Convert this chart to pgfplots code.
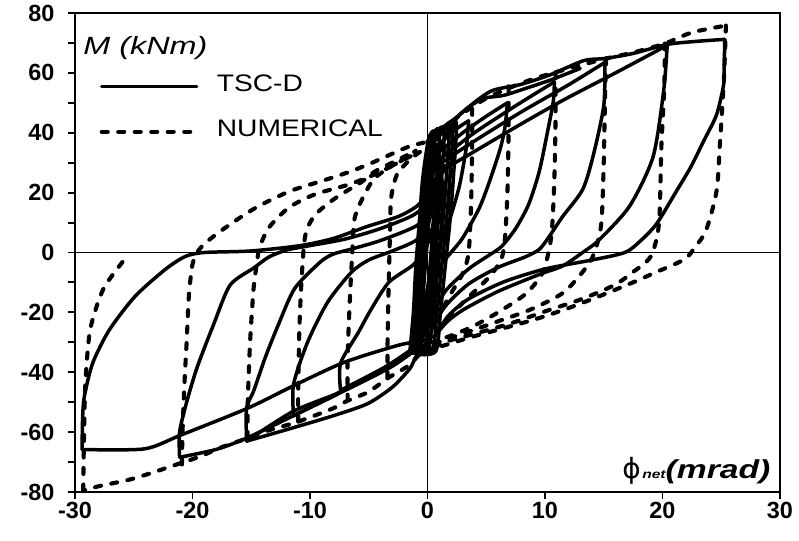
\documentclass[border=0pt]{standalone}
\usepackage{pgfplots}
\pgfplotsset{compat=1.18}
\usepackage{fontspec}
\setmainfont{Liberation Sans}
\newfontfamily\legfont[FakeStretch=1.18]{Liberation Sans}
\newfontfamily\lblfont[FakeStretch=1.3]{Liberation Sans}
\newfontfamily\phifont{DejaVu Sans}

\pgfplotsset{
  tsc/.style={black, line width=3.5bp, line join=round, line cap=round, smooth, tension=0.45},
  num/.style={black, line width=4.1bp, line cap=round, dash pattern=on 6bp off 10.5bp, smooth, tension=0.45},
}

\begin{document}
\begin{tikzpicture}
\begin{axis}[
  scale only axis, width=705bp, height=479bp,
  xmin=-30, xmax=30, ymin=-80, ymax=80,
  xtick={-30,-20,...,30}, ytick={-80,-60,...,80},
  minor ytick={-70,-50,...,70},
  tick align=outside, xtick pos=bottom, ytick pos=left,
  major tick length=7bp, minor tick length=7bp,
  every tick/.style={black, line width=1.9bp},
  axis line style={line width=2.3bp},
  /pgf/number format/assume math mode=true,
  ticklabel style={font=\bfseries\fontsize{23.5}{23.5}\selectfont},
  yticklabel style={xshift=-10bp},
  legend style={draw=none, fill=none, at={(axis cs:-27.9,59.4)}, anchor=north west,
    inner sep=0pt, outer sep=0pt, row sep=28bp,
    font=\legfont\fontsize{24}{24}\selectfont,
    nodes={inner sep=0pt, text height=17bp, text depth=0bp},
    /tikz/every odd column/.append style={column sep=18bp}},
  legend cell align=left,
  legend image code/.code={\draw[#1] (0bp,-3.5bp) -- (95bp,-3.5bp);},
]

% zero lines
\addplot[black, line width=1.9bp, forget plot] coordinates {(-30,0) (30,0)};
\addplot[black, line width=1.9bp, forget plot] coordinates {(0,-80) (0,80)};

% ---------- TSC-D (test) ----------
% reloading to the largest negative excursion
\addplot[tsc] coordinates {(0.5,-28) (-0.5,-29.5) (-2.5,-31) (-7.1,-36.7) (-11.4,-44.5) (-15.3,-52) (-21,-61) (-24.1,-65.6) (-29.4,-65.8)};
\addlegendentry{TSC-D}

% ---------- NUMERICAL ----------
% upper envelope
\addplot[num] coordinates {(0,37) (1.5,42) (3,46.5) (5,51.5) (7,55) (9,58) (10.9,60.2) (13,62.5) (15.2,64.8) (17.5,66.8) (20.2,69.8) (22.5,73.5) (25.4,75.8)};
\addlegendentry{NUMERICAL}

% unloading from -29 and return
\addplot[tsc, forget plot] coordinates {(-29.4,-65.8) (-29.35,-55) (-29.2,-48) (-28.5,-37) (-27.1,-26) (-24.9,-14.7) (-22.3,-5.6) (-20.6,-1.3) (-19,0) (-15.1,0.5) (-11,2.2) (-8.1,4.6) (-5.2,8.6) (-2.5,12) (-0.9,15.5) (0,20) (0.6,28) (1.2,36) (2,42)};
% upper envelope, first loading
\addplot[tsc, forget plot] coordinates {(0.3,36) (1.5,41) (3.1,47.3) (5.4,53.9) (7.9,56.1) (10.4,59.3) (13.3,64.1) (15.1,64.8) (17.5,66.5) (20.4,69.5) (22.8,70.5) (25.3,71.2)};
\addplot[tsc, forget plot] coordinates {(0.6,38) (2,43.5) (3.5,48.5) (4.8,51.5) (6.5,52.5) (8.5,55) (10.6,57.8) (13,61.5)};
% +25 unloading
\addplot[tsc, forget plot] coordinates {(25.3,71.2) (25.25,62) (25.2,56) (24.6,46) (23.5,37.2) (22.4,28.5) (21.2,20.6) (19.5,9.6) (18.1,3.8) (16.8,0) (14,-2.5) (10,-5.5) (6.5,-9.8) (3.5,-15.5) (1.8,-21) (0.8,-27)};
% +20 cycle
\addplot[tsc, forget plot] coordinates {(1.5,28) (4.1,34) (8,43) (11.6,51) (16,60) (20.4,69.2)};
\addplot[tsc, forget plot] coordinates {(20.4,69.2) (20.1,54.1) (19.2,32) (17.2,15.5) (14.6,4.2) (13.2,0) (11.5,-4.5) (9.6,-7.2) (6,-13) (3.1,-19) (1.7,-23) (0.6,-28)};
% +15 cycle
\addplot[tsc, forget plot] coordinates {(1.2,30) (3.9,37) (8,47) (12,56) (15.1,63.5)};
\addplot[tsc, forget plot] coordinates {(15.1,63.5) (15,49) (14.1,32.3) (13.2,21) (11.5,12) (10.3,5) (9.5,1) (8.3,-1.5) (6,-5) (3.5,-10.5) (1.5,-18) (0.3,-26)};
% +10 cycle
\addplot[tsc, forget plot] coordinates {(1,31) (4,40) (7.5,49) (10.8,57)};
\addplot[tsc, forget plot] coordinates {(10.8,57) (10.7,50.3) (10.2,40) (9.5,26.9) (8.6,16) (7.5,8) (6.3,2) (5.2,-1) (3.5,-5.5) (1.5,-13) (0.2,-23)};
% +7 cycle
\addplot[tsc, forget plot] coordinates {(0.8,33) (3,40) (5,45.5) (6.8,50)};
\addplot[tsc, forget plot] coordinates {(6.8,50) (6.6,42) (6.2,34.8) (5.3,24) (4.4,14.8) (3,4.9) (2,0) (1,-5) (0,-15) (-0.5,-25)};
% +3.5 cycle
\addplot[tsc, forget plot] coordinates {(0.5,34) (2,40) (3.5,44)};
\addplot[tsc, forget plot] coordinates {(3.5,44) (3.3,35) (2.7,22) (1.8,10) (0.8,0) (0,-12) (-0.6,-24)};
% -21 cycle
\addplot[tsc, forget plot] coordinates {(-0.5,-30) (-2,-34.5) (-4.3,-40) (-7.5,-47) (-11.4,-54.5) (-15.4,-62) (-18,-65.8) (-21.1,-68.4)};
\addplot[tsc, forget plot] coordinates {(-21.1,-68.4) (-21.1,-60) (-20.5,-50) (-19.6,-38.3) (-18.2,-24) (-16.8,-10.9) (-14.8,-5.2) (-13.5,-1.5) (-12,0.8) (-10,2.3) (-7,4.5) (-4,8) (-1.2,12.5) (0,17) (0.8,26)};
% -15 cycle
\addplot[tsc, forget plot] coordinates {(-0.5,-31) (-3,-38) (-7,-46) (-11.4,-53) (-15.4,-63)};
\addplot[tsc, forget plot] coordinates {(-15.4,-63) (-15.4,-52) (-14.8,-46.3) (-13.8,-35) (-12.7,-24.2) (-11.3,-12) (-9.1,-3.1) (-8,-0.5) (-6.6,1) (-4,4) (-0.9,9) (0,14) (0.8,24)};
% -11 cycle
\addplot[tsc, forget plot] coordinates {(-0.5,-30) (-3,-37) (-7.4,-46.5) (-11.4,-54.5)};
\addplot[tsc, forget plot] coordinates {(-11.4,-54.5) (-11.4,-44) (-10.2,-29.9) (-8.5,-16.6) (-6.5,-6.7) (-5,-2.5) (-3,0.5) (-1,4) (0,9) (0.7,20)};
% -7 cycle
\addplot[tsc, forget plot] coordinates {(-0.5,-30) (-3.5,-38) (-7.4,-46)};
\addplot[tsc, forget plot] coordinates {(-7.4,-46) (-7.4,-37) (-5.9,-26.8) (-4.8,-19) (-3.3,-10) (-1.3,-4.4) (-0.3,0) (0.4,8) (0.9,20)};
% small cycles near the origin (dense band)
\addplot[tsc, forget plot] coordinates {(-1.5,-33) (-1.2,-20) (-1,-5) (-0.7,10) (-0.4,25) (0.1,38) (0.6,40) (0.4,25) (0.1,10) (-0.2,-5) (-0.5,-20) (-0.9,-33) (-1.5,-33)};
\addplot[tsc, forget plot] coordinates {(-1.4,-33) (-1.1,-20) (-0.8,-5) (-0.5,10) (-0.2,25) (0.3,38) (1,41) (0.8,25) (0.5,10) (0.2,-5) (-0.2,-20) (-0.6,-33) (-1.4,-33)};
\addplot[tsc, forget plot] coordinates {(-1.3,-33) (-1,-20) (-0.7,-5) (-0.4,10) (-0.1,25) (0.4,38) (1.4,41.5) (1.2,25) (0.9,10) (0.6,-5) (0.2,-20) (-0.3,-33) (-1.3,-33)};
\addplot[tsc, forget plot] coordinates {(-1.2,-33) (-0.9,-20) (-0.6,-5) (-0.3,10) (0,25) (0.5,38) (1.8,42) (1.6,25) (1.3,10) (0.9,-5) (0.5,-20) (0,-33) (-1.2,-33)};
\addplot[tsc, forget plot] coordinates {(-1.1,-33.5) (-0.8,-20) (-0.5,-5) (-0.2,10) (0.1,25) (0.6,38) (2.1,43) (1.9,25) (1.6,10) (1.2,-5) (0.8,-20) (0.4,-33) (-1.1,-33.5)};
\addplot[tsc, forget plot] coordinates {(-1,-34) (-0.7,-20) (-0.4,-5) (-0.1,10) (0.2,25) (0.7,38) (2.4,44) (2.2,25) (1.9,10) (1.5,-5) (1.1,-20) (0.7,-33) (-1,-34)};
\addplot[tsc, forget plot] coordinates {(-0.8,-30) (-0.6,-15) (-0.3,0) (0,15) (0.4,28) (0.9,34) (0.9,20) (0.6,5) (0.3,-10) (-0.1,-22) (-0.8,-30)};
\addplot[tsc, forget plot] coordinates {(-1.2,-31) (-0.9,-16) (-0.6,0) (-0.2,15) (0.2,28) (0.8,36) (1.3,20) (1.1,5) (0.7,-10) (0.3,-22) (-1.2,-31)};
% lower envelope close to the origin
\addplot[tsc, forget plot] coordinates {(1,-31) (-0.8,-34) (-1.5,-38.8) (-3,-45) (-5.1,-50.5) (-8,-54.5) (-11.4,-58.5) (-13.6,-61) (-15.4,-63)};

% numerical unloading from positive peaks
\addplot[num, forget plot] coordinates {(25.4,75.8) (25.3,65) (25.2,56) (24.9,37) (24.6,20.5) (23.7,7.3) (22.8,2) (21.9,-2.2) (19.5,-6.5) (17.3,-10.3) (14.5,-14.8) (11.7,-19) (9,-22.5) (6,-25.8) (3.5,-28.5) (1.8,-30.6) (0.5,-32)};
\addplot[num, forget plot] coordinates {(20.2,69.8) (20.15,55) (19.9,35) (19.7,9.6) (19,-1.3) (17.5,-6.5) (15.9,-10.9) (13.1,-15.6) (10.2,-19.4) (7.3,-23.4) (4.5,-26.6) (2.5,-28.7) (0.5,-31)};
\addplot[num, forget plot] coordinates {(15.2,64.8) (15.1,50) (15,30) (14.8,10) (14.3,1) (13.6,-4.5) (11.6,-13.3) (8.8,-19) (6,-23) (3.1,-27) (0.5,-30.5)};
\addplot[num, forget plot] coordinates {(10.9,60.2) (10.9,45) (10.8,25) (10.6,8) (10.3,0) (9.7,-7.5) (8.3,-14) (6,-20) (3.7,-25) (1.5,-28.5) (0.3,-30)};
\addplot[num, forget plot] coordinates {(6.9,55.5) (6.9,40) (6.8,20) (6.6,5) (6.3,-2) (5.3,-8) (3.2,-16) (1.5,-23) (0.3,-28)};
\addplot[num, forget plot] coordinates {(3.8,48) (3.8,35) (3.7,15) (3.5,0) (3,-7) (1.8,-15) (0.5,-25) (0,-29)};
% numerical lower envelope
\addplot[num, forget plot] coordinates {(0.5,-32) (-0.5,-33.5) (-1.7,-38) (-3.4,-42) (-5,-46.5) (-6.8,-49.5) (-8,-52) (-11,-56.5) (-13.6,-59.5) (-15.3,-62) (-17.5,-65) (-19.4,-68.2) (-21.5,-71) (-23.7,-73.9) (-25.5,-76) (-27.9,-78) (-29.3,-79.5)};
% numerical unloading from negative peaks
\addplot[num, forget plot] coordinates {(-29.3,-79.5) (-29.25,-65) (-29.2,-55) (-29.1,-42.3) (-28.7,-25.6) (-27.6,-12.3) (-25.9,-2.9)};
\addplot[num, forget plot] coordinates {(-20.9,-70.8) (-20.85,-60) (-20.7,-45) (-20.5,-30) (-20.3,-14) (-20,-4) (-19.6,0) (-18.9,3.2) (-17.2,8.3) (-14.6,15) (-11.7,20.5) (-8.9,24) (-6.6,27) (-4.7,30) (-3,33) (-1.5,35.5) (0,37)};
\addplot[num, forget plot] coordinates {(-15.3,-62) (-15.3,-50.5) (-15.1,-30) (-14.8,-12) (-14.5,-3) (-14.3,1.6) (-13.5,8.3) (-11.8,15) (-9.6,19.4) (-6.7,22.7) (-4.5,26.1) (-2.5,30) (-1,34)};
\addplot[num, forget plot] coordinates {(-11,-56.5) (-11,-45) (-10.9,-25) (-10.7,-8) (-10.4,5.7) (-9.6,12.4) (-7.9,18) (-5.6,23.6) (-4.5,27) (-2.5,31) (-1,34)};
\addplot[num, forget plot] coordinates {(-6.8,-49.5) (-6.8,-35) (-6.6,-15) (-6.4,0) (-6.2,11.5) (-5.4,19.1) (-4.5,24.8) (-3,29) (-1,33)};
\addplot[num, forget plot] coordinates {(-3.4,-42) (-3.4,-30) (-3.3,-10) (-3.2,5) (-3.1,18) (-2.6,26) (-1.5,31) (-0.5,34)};
% numerical small cycles
\addplot[num, forget plot] coordinates {(-1,-33) (-0.8,-15) (-0.3,0) (0.3,15) (0.8,30) (1.2,38)};
\addplot[num, forget plot] coordinates {(1.5,40) (1.3,20) (0.8,0) (0.3,-15) (-0.2,-28) (-0.6,-33)};
\addplot[num, forget plot] coordinates {(2.2,44) (2,25) (1.5,5) (0.8,-15) (0,-30)};

% axis titles inside the frame
\node[anchor=base west, inner sep=0pt, font=\lblfont\itshape\fontsize{25}{25}\selectfont] at (axis cs:-29.3,66) {M (kNm)};
\node[anchor=base east, inner sep=0pt] at (axis cs:29.2,-75.5)
  {{\phifont\fontsize{28}{28}\selectfont ϕ}\,{\lblfont\bfseries\itshape\fontsize{12}{12}\selectfont net}{\lblfont\bfseries\itshape\fontsize{26}{26}\selectfont(mrad)}};
\end{axis}
\path ([xshift=-75bp,yshift=-49bp]current axis.south west) rectangle ++(799bp,541bp);
\end{tikzpicture}
\end{document}
